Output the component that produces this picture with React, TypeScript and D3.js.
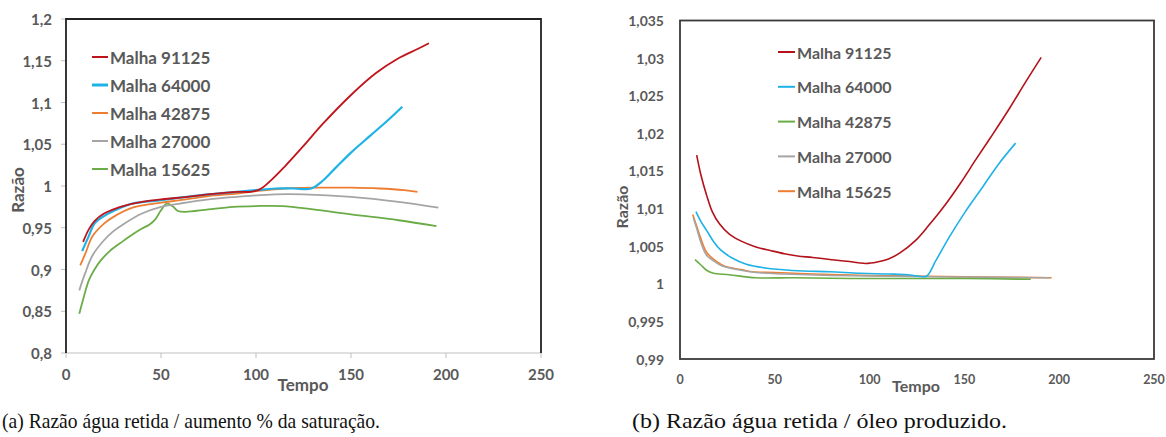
import React from 'react';
import * as d3 from 'd3';

// Tempo x Razão, left panel (a)
const seriesNamesA = ['Malha 91125', 'Malha 64000', 'Malha 42875', 'Malha 27000', 'Malha 15625'];
const seriesColorsA = ['#c0141c', '#1fb2e6', '#ed7d31', '#a5a5a5', '#6aac46'];

const red91125A = [[9, 0.933], [12, 0.948], [15, 0.958], [20, 0.967], [25, 0.972], [30, 0.976], [40, 0.981], [50, 0.984], [60, 0.986], [75, 0.99], [90, 0.993], [97, 0.993], [102, 0.996], [108, 1.007], [115, 1.023], [125, 1.048], [135, 1.074], [150, 1.109], [163, 1.135], [175, 1.153], [185, 1.164], [191, 1.171]];
const blue64000A = [[8.5, 0.922], [12, 0.94], [15, 0.955], [20, 0.964], [25, 0.97], [35, 0.979], [50, 0.983], [60, 0.986], [75, 0.99], [90, 0.993], [100, 0.995], [110, 0.997], [120, 0.997], [129, 0.997], [135, 1.006], [142, 1.022], [150, 1.04], [160, 1.06], [170, 1.08], [177, 1.095]];
const orange42875A = [[7.5, 0.905], [10, 0.918], [14, 0.94], [20, 0.955], [25, 0.963], [35, 0.974], [50, 0.98], [60, 0.983], [75, 0.988], [90, 0.991], [100, 0.994], [115, 0.997], [130, 0.998], [150, 0.998], [165, 0.997], [178, 0.995], [185, 0.993]];
const gray27000A = [[7, 0.875], [10, 0.895], [14, 0.917], [20, 0.935], [25, 0.946], [30, 0.954], [40, 0.967], [50, 0.975], [60, 0.979], [75, 0.984], [90, 0.987], [110, 0.99], [125, 0.99], [150, 0.987], [175, 0.981], [196, 0.974]];
const green15625A = [[7, 0.847], [9, 0.864], [12, 0.887], [15, 0.9], [18, 0.91], [23, 0.922], [30, 0.934], [35, 0.942], [40, 0.949], [44, 0.954], [47, 0.96], [50, 0.971], [53, 0.979], [56, 0.976], [59, 0.97], [63, 0.969], [75, 0.972], [88, 0.975], [100, 0.976], [114, 0.976], [130, 0.972], [150, 0.966], [175, 0.959], [195, 0.952]];

// right panel (b)
const seriesNamesB = ['Malha 91125', 'Malha 64000', 'Malha 42875', 'Malha 27000', 'Malha 15625'];
const seriesColorsB = ['#b3121a', '#1fb2e6', '#6aac46', '#a5a5a5', '#ed7d31'];

const red91125B = [[8.8, 1.0171], [11, 1.0145], [14, 1.0118], [17, 1.0096], [21, 1.0079], [26, 1.0066], [32, 1.0057], [40, 1.0049], [48, 1.0044], [55, 1.004], [62, 1.0037], [70, 1.0035], [80, 1.0032], [88, 1.003], [94, 1.0028], [98, 1.0027], [104, 1.0029], [110, 1.0033], [116, 1.0041], [124, 1.0057], [131, 1.0077], [139, 1.0102], [148, 1.0134], [156, 1.0165], [165, 1.0199], [174, 1.0234], [182, 1.0267], [190.5, 1.0301]];
const blue64000B = [[8.4, 1.0096], [11, 1.0083], [14, 1.0071], [18, 1.0055], [21, 1.0046], [27, 1.0035], [35, 1.0026], [45, 1.0021], [53, 1.0019], [65, 1.0017], [79, 1.0016], [95, 1.0014], [110, 1.0013], [120, 1.0012], [126, 1.001], [130, 1.001], [135, 1.0031], [142, 1.0062], [150, 1.0094], [160, 1.013], [168, 1.0159], [177, 1.0187]];
const green42875B = [[7.9, 1.0032], [11, 1.0025], [14, 1.0018], [17.6, 1.0014], [26, 1.0012], [40, 1.0008], [60, 1.0008], [90, 1.0007], [120, 1.0007], [150, 1.0007], [185, 1.0006]];
const gray27000B = [[7, 1.0088], [9, 1.0072], [11, 1.0055], [14, 1.0038], [18, 1.003], [22, 1.0024], [30, 1.0019], [40, 1.0015], [55, 1.0013], [80, 1.0011], [110, 1.001], [150, 1.0009], [195, 1.0008]];
const orange15625B = [[6.7, 1.0092], [9, 1.0075], [11, 1.006], [14, 1.0042], [19, 1.003], [24, 1.0023], [32, 1.0019], [38, 1.0016], [50, 1.0015], [70, 1.0013], [100, 1.0011], [130, 1.001], [160, 1.0009], [196, 1.0008]];

const xTicks = [0, 50, 100, 150, 200, 250];
const yTicksA = [0.8, 0.85, 0.9, 0.95, 1, 1.05, 1.1, 1.15, 1.2];
const yLabelsA = ['0,8', '0,85', '0,9', '0,95', '1', '1,05', '1,1', '1,15', '1,2'];
const yTicksB = [0.99, 0.995, 1, 1.005, 1.01, 1.015, 1.02, 1.025, 1.03, 1.035];
const yLabelsB = ['0,99', '0,995', '1', '1,005', '1,01', '1,015', '1,02', '1,025', '1,03', '1,035'];

const captionA = '(a) Razão água retida / aumento % da saturação.';
const captionB = '(b) Razão água retida / óleo produzido.';

const FONT = 'Lato, sans-serif';
const TXT = '#595959';

export default function App() {
  // panel a
  const xA = d3.scaleLinear().domain([0, 250]).range([66, 541]);
  const yA = d3.scaleLinear().domain([0.8, 1.2]).range([353, 19]);
  const lineA = d3.line<number[]>().x(d => xA(d[0])).y(d => yA(d[1])).curve(d3.curveCatmullRom);
  const dataA = [red91125A, blue64000A, orange42875A, gray27000A, green15625A];

  // panel b
  const xB = d3.scaleLinear().domain([0, 250]).range([680, 1154]);
  const yB = d3.scaleLinear().domain([0.99, 1.035]).range([359, 20.5]);
  const lineB = d3.line<number[]>().x(d => xB(d[0])).y(d => yB(d[1])).curve(d3.curveCatmullRom);
  const dataB = [red91125B, blue64000B, green42875B, gray27000B, orange15625B];

  const drawOrder = [4, 3, 2, 1, 0];

  return (
    <svg width={1166} height={437} style={{ position: 'absolute', left: 0, top: 0, background: '#fff' }}>
      {/* ---------- panel a ---------- */}
      <g>
        {yTicksA.map((t, i) => (
          <g key={'ya' + i}>
            <line x1={61} x2={66} y1={yA(t)} y2={yA(t)} stroke="#bfbfbf" />
            <text x={52} y={yA(t)} textAnchor="end" dominantBaseline="central" fontFamily={FONT} fontWeight="bold" fontSize={15} fill={TXT}>{yLabelsA[i]}</text>
          </g>
        ))}
        {xTicks.map(t => (
          <g key={'xa' + t}>
            <line x1={xA(t)} x2={xA(t)} y1={353} y2={358} stroke="#bfbfbf" />
            <text x={xA(t)} y={374} textAnchor="middle" dominantBaseline="central" fontFamily={FONT} fontWeight="bold" fontSize={15} fill={TXT}>{t}</text>
          </g>
        ))}
        <line x1={66} x2={541} y1={353} y2={353} stroke="#bfbfbf" strokeWidth={1.2} />
        <path d="M66,353 V19 H541 V353" fill="none" stroke="#222" strokeWidth={1.8} />
        {drawOrder.map(i => (
          <path key={'la' + i} d={lineA(dataA[i]) || ''} fill="none" stroke={seriesColorsA[i]} strokeWidth={i === 1 ? 2.2 : 1.8} />
        ))}
        {seriesNamesA.map((n, i) => (
          <g key={'lga' + i}>
            <line x1={92} x2={108} y1={57 + i * 28} y2={57 + i * 28} stroke={seriesColorsA[i]} strokeWidth={i === 1 ? 3 : 2} />
            <text x={110} y={57 + i * 28} dominantBaseline="central" fontFamily={FONT} fontWeight="bold" fontSize={17} fill={TXT}>{n}</text>
          </g>
        ))}
        <text transform="translate(17,190) rotate(-90)" textAnchor="middle" dominantBaseline="central" fontFamily={FONT} fontWeight="bold" fontSize={17} fill={TXT}>Razão</text>
        <text x={303} y={384} textAnchor="middle" dominantBaseline="central" fontFamily={FONT} fontWeight="bold" fontSize={17} fill={TXT}>Tempo</text>
      </g>

      {/* ---------- panel b ---------- */}
      <g>
        {yTicksB.map((t, i) => (
          <text key={'yb' + i} x={664} y={yB(t)} textAnchor="end" dominantBaseline="central" fontFamily={FONT} fontWeight="bold" fontSize={14} fill={TXT}>{yLabelsB[i]}</text>
        ))}
        {xTicks.map(t => (
          <text key={'xb' + t} x={xB(t)} y={379} textAnchor="middle" dominantBaseline="central" fontFamily={FONT} fontWeight="bold" fontSize={12.5} fill={TXT}>{t}</text>
        ))}
        <rect x={680} y={20.5} width={474} height={338.5} fill="none" stroke="#3a3a3a" strokeWidth={1.8} />
        {drawOrder.map(i => (
          <path key={'lb' + i} d={lineB(dataB[i]) || ''} fill="none" stroke={seriesColorsB[i]} strokeWidth={1.6} />
        ))}
        {seriesNamesB.map((n, i) => (
          <g key={'lgb' + i}>
            <line x1={778} x2={795} y1={52 + i * 34.8} y2={52 + i * 34.8} stroke={seriesColorsB[i]} strokeWidth={2} />
            <text x={797} y={52 + i * 34.8} dominantBaseline="central" fontFamily={FONT} fontWeight="bold" fontSize={16} fill={TXT}>{n}</text>
          </g>
        ))}
        <text transform="translate(621,207) rotate(-90)" textAnchor="middle" dominantBaseline="central" fontFamily={FONT} fontWeight="bold" fontSize={16} fill={TXT}>Razão</text>
        <text x={916} y={385} textAnchor="middle" dominantBaseline="central" fontFamily={FONT} fontWeight="bold" fontSize={16} fill={TXT}>Tempo</text>
      </g>

      {/* captions */}
      <text x={2} y={428} fontFamily="'Liberation Serif', serif" fontSize={21} fill="#111" textLength={378} lengthAdjust="spacingAndGlyphs">{captionA}</text>
      <text x={632} y={428} fontFamily="'Liberation Serif', serif" fontSize={21} fill="#111" textLength={375} lengthAdjust="spacingAndGlyphs">{captionB}</text>
    </svg>
  );
}
